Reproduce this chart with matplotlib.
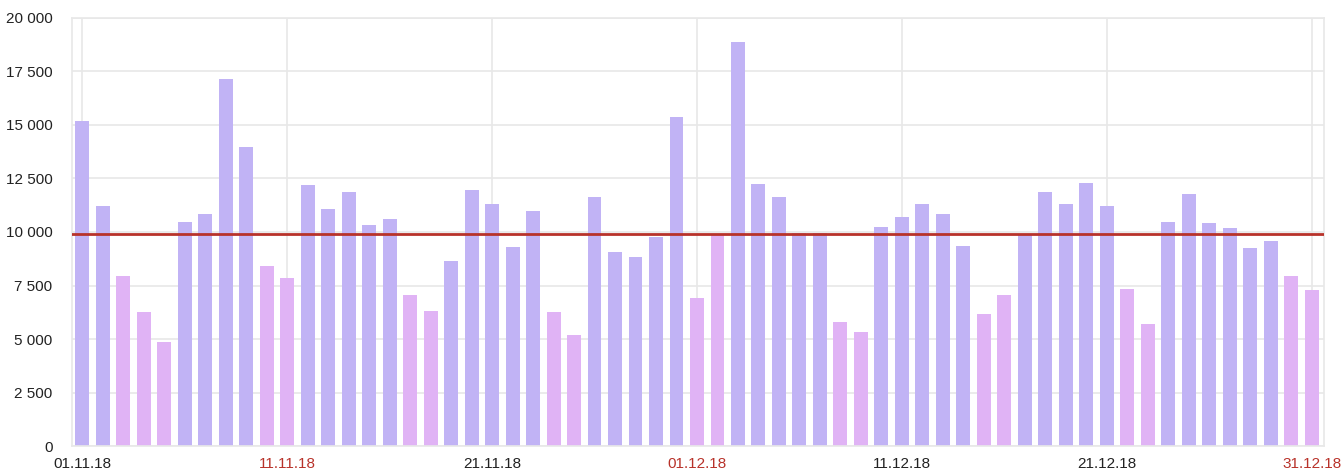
"""
Daily values for November-December 2018 with non-working days highlighted.
"""

import matplotlib

matplotlib.use("Agg")
import matplotlib.pyplot as plt
from matplotlib.ticker import FuncFormatter, MultipleLocator


# ============================================================================
# Data
# ============================================================================

DATES = (
    [f"{d:02d}.11.18" for d in range(1, 31)]
    + [f"{d:02d}.12.18" for d in range(1, 32)]
)

VALUES = [
    15200, 11200, 7950, 6250, 4850, 10480, 10830, 17150, 13970, 8400,
    7870, 12200, 11080, 11890, 10340, 10590, 7040, 6320, 8650, 11950,
    11310, 9290, 11000, 6260, 5200, 11650, 9050, 8820, 9770, 15390,
    6930, 9890, 18860, 12260, 11650, 9940, 9940, 5800, 5310, 10230,
    10700, 11310, 10830, 9350, 6150, 7040, 9890, 11890, 11310, 12310,
    11230, 7340, 5690, 10480, 11780, 10420, 10170, 9240, 9580, 7930,
    7280,
]

# 1 = weekend / public holiday
NON_WORKING = [
    0, 0, 1, 1, 1, 0, 0, 0, 0, 1,
    1, 0, 0, 0, 0, 0, 1, 1, 0, 0,
    0, 0, 0, 1, 1, 0, 0, 0, 0, 0,
    1, 1, 0, 0, 0, 0, 0, 1, 1, 0,
    0, 0, 0, 0, 1, 1, 0, 0, 0, 0,
    0, 1, 1, 0, 0, 0, 0, 0, 0, 1,
    1,
]

AVERAGE = 9900

TICK_INDEX = [0, 10, 20, 30, 40, 50, 60]

WORKDAY_COLOR = "#c1b3f5"
HOLIDAY_COLOR = "#e0b3f5"
AVERAGE_COLOR = "#b8322a"
HOLIDAY_LABEL_COLOR = "#b8322a"
GRID_COLOR = "#e8e8e8"


# ============================================================================
# Plotting
# ============================================================================

def main():
    plt.rcParams["font.family"] = ["Liberation Sans", "DejaVu Sans"]

    fig = plt.figure(figsize=(13.44, 4.72), dpi=100)
    ax = fig.add_axes([0.0536, 0.055, 0.9315, 0.907])

    x = list(range(len(VALUES)))
    colors = [HOLIDAY_COLOR if h else WORKDAY_COLOR for h in NON_WORKING]
    ax.bar(x, VALUES, width=0.68, color=colors, zorder=2)
    ax.axhline(AVERAGE, color=AVERAGE_COLOR, linewidth=2, zorder=3)

    ax.set_xlim(-0.5, 60.6)
    ax.set_ylim(0, 20000)
    ax.yaxis.set_major_locator(MultipleLocator(2500))
    ax.yaxis.set_major_formatter(
        FuncFormatter(lambda v, _: f"{int(v):,}".replace(",", " "))
    )

    ax.set_xticks(TICK_INDEX)
    ax.set_xticklabels([DATES[i] for i in TICK_INDEX])
    for i, label in zip(TICK_INDEX, ax.get_xticklabels()):
        label.set_color(HOLIDAY_LABEL_COLOR if NON_WORKING[i] else "#222222")

    ax.tick_params(axis="y", length=0, pad=14, labelsize=11, labelcolor="#222222")
    ax.tick_params(axis="x", length=0, pad=8, labelsize=11)

    ax.grid(True, color=GRID_COLOR, linewidth=1.2, zorder=0)
    for spine in ax.spines.values():
        spine.set_color(GRID_COLOR)
        spine.set_linewidth(1.2)

    fig.savefig("out.png", dpi=100)
    plt.close(fig)


if __name__ == "__main__":
    main()
